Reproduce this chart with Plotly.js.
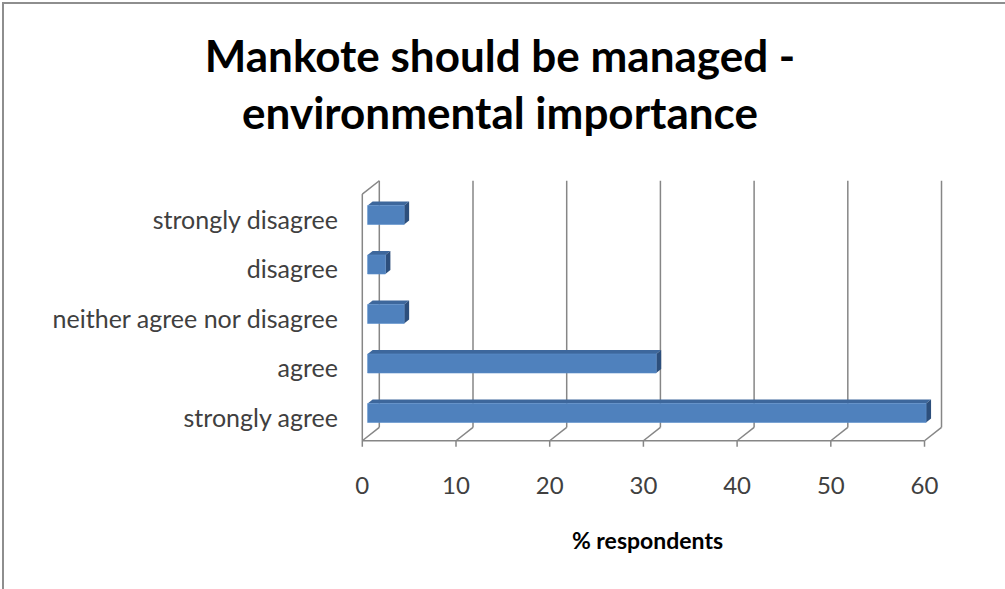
<!DOCTYPE html>
<html>
<head>
<meta charset="utf-8">
<script src="https://cdn.plot.ly/plotly-3.0.1.min.js"></script>
<style>html,body{margin:0;padding:0;background:#fff;}#chart{width:1005px;height:589px;}</style>
</head>
<body>
<div id="chart"></div>
<script>
// ---- data ----
const categories = ['strongly agree', 'agree', 'neither agree nor disagree', 'disagree', 'strongly disagree'];
const values = [59.6, 30.8, 3.9, 1.9, 3.9];
const xTickValues = [0, 10, 20, 30, 40, 50, 60];
const chartTitle = 'Mankote should be managed -<br>environmental importance';
const xTitle = '% respondents';

// ---- geometry / style ----
const W = 1005, H = 589;
const L = 345, R = 950, T = 176, B = 452;
const xRange = [-1.846, 62.72];
const ppuX = (R - L) / (xRange[1] - xRange[0]);
const ppuY = 49.5;
const yRange = [(418 - B) / ppuY, (418 - T) / ppuY];
const dx = px => px / ppuX;
const dy = px => px / ppuY;

const xMax = xTickValues[xTickValues.length - 1];
const floorY = -0.5 + dy(2);          // front floor edge (data)
const depthX = dx(17), depthY = dy(13.3);
const wallTopFront = categories.length - 0.5 + dy(1.2);
const wallTopBack = wallTopFront + depthY;
const gridColor = '#868686';

const idx = categories.map((c, i) => i);
const barBase = dx(5.3);
const barShift = dy(5);
const barHalf = dy(9.5);
const barDX = dx(5), barDY = dy(4);

const shapes = [];
const line = (x0, y0, x1, y1, w) => shapes.push({type: 'line', xref: 'x', yref: 'y', x0, y0, x1, y1, layer: 'below', line: {color: gridColor, width: w || 1.5}});

// back wall grid lines and floor diagonals, tick marks
xTickValues.forEach(k => {
  line(k + depthX, floorY + depthY, k + depthX, wallTopBack);
  line(k, floorY, k + depthX, floorY + depthY);
  line(k, floorY, k, floorY - dy(6));
});
// front floor edge
line(0, floorY, xMax, floorY);
// left side wall
line(0, floorY, 0, wallTopFront);
line(0, wallTopFront, depthX, wallTopBack);

// 3D faces of bars
values.forEach((v, i) => {
  const yTop = i + barShift + barHalf, yBot = i + barShift - barHalf;
  const x0 = barBase, x1 = barBase + v;
  shapes.push({type: 'path', xref: 'x', yref: 'y', layer: 'below', line: {width: 0},
    fillcolor: '#3d679c',
    path: `M${x0},${yTop} L${x1},${yTop} L${x1 + barDX},${yTop + barDY} L${x0 + barDX},${yTop + barDY} Z`});
  shapes.push({type: 'path', xref: 'x', yref: 'y', layer: 'below', line: {width: 0},
    fillcolor: '#2d4f7c',
    path: `M${x1},${yBot} L${x1},${yTop} L${x1 + barDX},${yTop + barDY} L${x1 + barDX},${yBot + barDY} Z`});
});

// outer border (top and left)
const px2paperX = px => (px - L) / (R - L);
const py2paperY = py => (B - py) / (B - T);
shapes.push({type: 'path', xref: 'paper', yref: 'paper', line: {color: '#8e8e8e', width: 2},
  path: `M${px2paperX(3)},${py2paperY(H + 5)} L${px2paperX(3)},${py2paperY(3)} L${px2paperX(W + 5)},${py2paperY(3)}`});

const trace = {
  type: 'bar', orientation: 'h',
  x: values, y: idx,
  base: barBase,
  width: 2 * barHalf,
  offset: barShift - barHalf,
  marker: {color: '#4f81bd', line: {color: '#5d8fcb', width: 0.6}},
  hoverinfo: 'skip'
};

const layout = {
  width: W, height: H,
  margin: {l: L, r: W - R, t: T, b: H - B, pad: 0},
  paper_bgcolor: '#fff', plot_bgcolor: 'rgba(0,0,0,0)',
  showlegend: false,
  font: {family: 'Lato, "Open Sans", sans-serif', color: '#404040'},
  title: {
    text: '<b>' + chartTitle + '</b>',
    font: {family: 'Lato, sans-serif', size: 44, color: '#000'},
    x: 500 / W, xanchor: 'center', xref: 'container',
    y: 1 - 72 / H, yanchor: 'middle', yref: 'container'
  },
  xaxis: {
    range: xRange, tickvals: xTickValues, ticktext: xTickValues.map(String),
    showgrid: false, zeroline: false, showline: false, ticks: '',
    tickfont: {size: 24, color: '#404040'},
    ticklabelstandoff: 17,
    title: {text: '<b>' + xTitle + '</b>', font: {size: 23, color: '#000'}, standoff: 34},
    fixedrange: true
  },
  yaxis: {
    range: yRange, tickvals: idx, ticktext: categories,
    showgrid: false, zeroline: false, showline: false, ticks: '',
    tickfont: {size: 25, color: '#404040'},
    ticklabelstandoff: 6,
    fixedrange: true
  },
  shapes: shapes
};

Plotly.newPlot('chart', [trace], layout, {displayModeBar: false, staticPlot: true});
</script>
</body>
</html>
